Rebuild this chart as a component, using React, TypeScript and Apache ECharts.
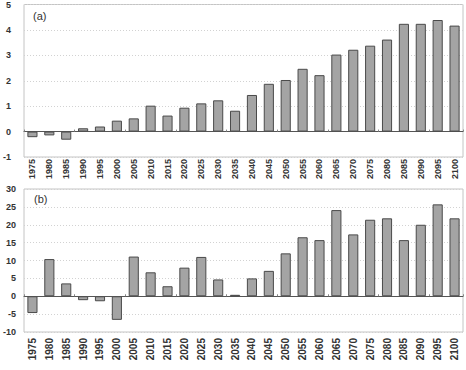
import React, { useEffect, useRef } from "react";
import * as echarts from "echarts";

const years = [
  "1975", "1980", "1985", "1990", "1995", "2000", "2005", "2010", "2015",
  "2020", "2025", "2030", "2035", "2040", "2045", "2050", "2055", "2060",
  "2065", "2070", "2075", "2080", "2085", "2090", "2095", "2100",
];

const seriesA = [
  -0.22, -0.15, -0.32, 0.13, 0.2, 0.43, 0.52, 1.02, 0.63, 0.94, 1.11, 1.23,
  0.82, 1.44, 1.88, 2.03, 2.47, 2.22, 3.03, 3.22, 3.38, 3.62, 4.24, 4.24,
  4.39, 4.17,
];

const seriesB = [
  -4.7, 10.4, 3.6, -1.1, -1.4, -6.6, 11.1, 6.7, 2.8, 8.0, 11.0, 4.7, 0.4,
  5.0, 7.1, 12.0, 16.5, 15.7, 24.1, 17.3, 21.4, 21.8, 15.7, 20.0, 25.7, 21.8,
];

const panelLabels = ["(a)", "(b)"];

export default function App() {
  const ref = useRef<HTMLDivElement>(null);
  useEffect(() => {
    if (!ref.current) return;
    const chart = echarts.init(ref.current, null, { renderer: "svg" });
    const font = "Liberation Sans, Arial, sans-serif";
    const barStyle = {
      color: "#a4a4a4",
      borderColor: "#4a4a4a",
      borderWidth: 1,
    };
    const splitLine = {
      show: true,
      lineStyle: { color: "#d2d2d2", type: [1, 2] as any, width: 1 },
    };
    const labelXA = {
      rotate: 90,
      fontSize: 9,
      fontWeight: "bold" as const,
      color: "#333",
      fontFamily: font,
      margin: 2,
      interval: 0,
    };
    const labelXB = { ...labelXA, fontSize: 10, margin: 6 };
    chart.setOption({
      animation: false,
      grid: [
        {
          left: 21, top: 4, right: 3, height: 153,
          show: true, borderColor: "#c4c4c4", borderWidth: 1,
        },
        {
          left: 22, top: 189, right: 3, height: 143,
          show: true, borderColor: "#c4c4c4", borderWidth: 1,
        },
      ],
      xAxis: [
        {
          type: "category", data: years, gridIndex: 0,
          axisLine: { show: false, onZero: false },
          axisTick: { show: false },
          axisLabel: labelXA,
        },
        {
          type: "category", data: years, gridIndex: 1,
          axisLine: { show: false, onZero: false },
          axisTick: { show: false },
          axisLabel: labelXB,
        },
        {
          type: "category", data: years, gridIndex: 0,
          axisLine: { show: true, onZero: true, lineStyle: { color: "#555", width: 1 } },
          axisTick: { show: true, length: 2, lineStyle: { color: "#888" } },
          axisLabel: { show: false },
        },
        {
          type: "category", data: years, gridIndex: 1,
          axisLine: { show: true, onZero: true, lineStyle: { color: "#555", width: 1 } },
          axisTick: { show: true, length: 2, lineStyle: { color: "#888" } },
          axisLabel: { show: false },
        },
      ],
      yAxis: [
        {
          type: "value", gridIndex: 0, min: -1, max: 5, interval: 1,
          axisLine: { show: false }, axisTick: { show: false },
          splitLine,
          axisLabel: {
            fontSize: 9, fontWeight: "bold", color: "#333",
            fontFamily: font, margin: 13,
          },
        },
        {
          type: "value", gridIndex: 1, min: -10, max: 30, interval: 5,
          axisLine: { show: false }, axisTick: { show: false },
          splitLine,
          axisLabel: {
            fontSize: 9, fontWeight: "bold", color: "#333",
            fontFamily: font, margin: 8,
          },
        },
      ],
      graphic: [
        {
          type: "text", left: 33, top: 10,
          style: { text: panelLabels[0], fontSize: 11, fill: "#333", fontFamily: font },
        },
        {
          type: "text", left: 34, top: 193,
          style: { text: panelLabels[1], fontSize: 11, fill: "#333", fontFamily: font },
        },
      ],
      series: [
        {
          type: "bar", data: seriesA, xAxisIndex: 0, yAxisIndex: 0,
          barWidth: "60%", itemStyle: barStyle,
        },
        {
          type: "bar", data: seriesB, xAxisIndex: 1, yAxisIndex: 1,
          barWidth: "60%", itemStyle: barStyle,
        },
      ],
    });
    return () => chart.dispose();
  }, []);
  return (
    <div
      ref={ref}
      style={{ position: "absolute", left: 0, top: 0, width: 466, height: 370 }}
    />
  );
}
